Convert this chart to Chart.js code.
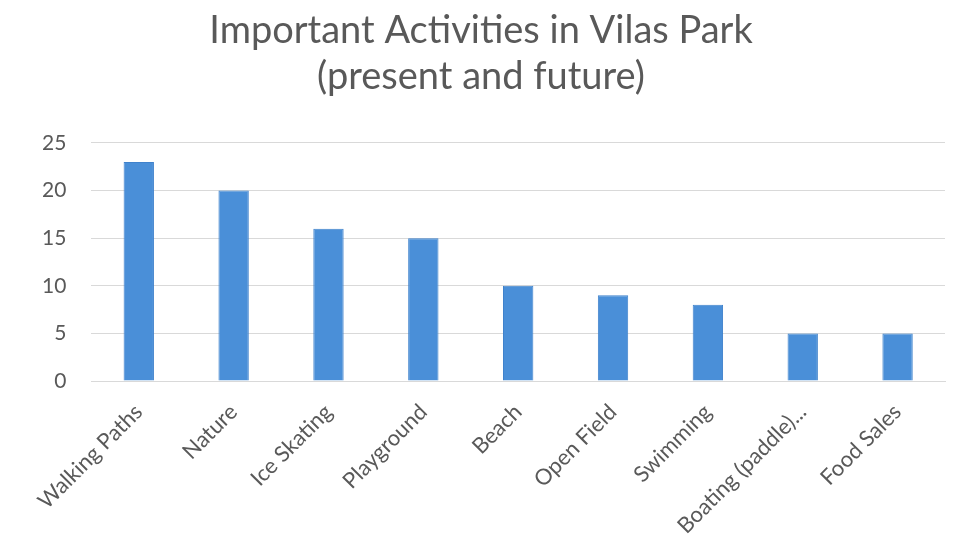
<!DOCTYPE html>
<html>
<head>
<meta charset="utf-8">
<script src="https://cdn.jsdelivr.net/npm/chart.js@4"></script>
<style>
  html, body { margin: 0; padding: 0; background: #fff; }
  #wrap { width: 961px; height: 550px; }
</style>
</head>
<body>
<div id="wrap"><canvas id="chart"></canvas></div>
<script>
// categories and values
const activities = ['Walking Paths', 'Nature', 'Ice Skating', 'Playground', 'Beach',
                    'Open Field', 'Swimming', 'Boating (paddle)...', 'Food Sales']
const counts = [23, 20, 16, 15, 10, 9, 8, 5, 5]
const yTicks = [0, 5, 10, 15, 20, 25]

const grey = '#595959'
const font = "Lato, 'Open Sans', sans-serif"

window.onload = function() {
    let ctx = document.getElementById('chart')

    new Chart(ctx, {
        type: 'bar',
        data: {
            labels: activities,
            datasets: [{
                data: counts,
                backgroundColor: '#4a8fd8',
                borderColor: '#3f82cc',
                borderWidth: 1,
                barPercentage: 0.64,
                categoryPercentage: 0.5
            }]
        },
        options: {
            responsive: true,
            maintainAspectRatio: false,
            animation: false,
            layout: { padding: { left: 17, right: 16, top: 4, bottom: 1 } },
            plugins: {
                legend: { display: false },
                tooltip: { enabled: false },
                title: {
                    display: true,
                    text: ['Important Activities in Vilas Park', '(present and future)'],
                    color: grey,
                    font: { family: font, size: 38, weight: 'normal', lineHeight: 1.21 },
                    padding: { top: 4, bottom: 43 }
                }
            },
            scales: {
                x: {
                    grid: { display: false },
                    border: { color: '#d9d9d9' },
                    ticks: {
                        color: grey,
                        font: { family: font, size: 22 },
                        minRotation: 45,
                        maxRotation: 45,
                        padding: 10
                    }
                },
                y: {
                    min: 0,
                    max: 25,
                    afterBuildTicks: function(axis) {
                        axis.ticks = yTicks.map(v => ({ value: v }))
                    },
                    grid: { color: '#d9d9d9', drawTicks: false },
                    border: { display: false },
                    ticks: {
                        color: grey,
                        font: { family: font, size: 21 },
                        padding: 25
                    }
                }
            }
        }
    })
}
</script>
</body>
</html>
